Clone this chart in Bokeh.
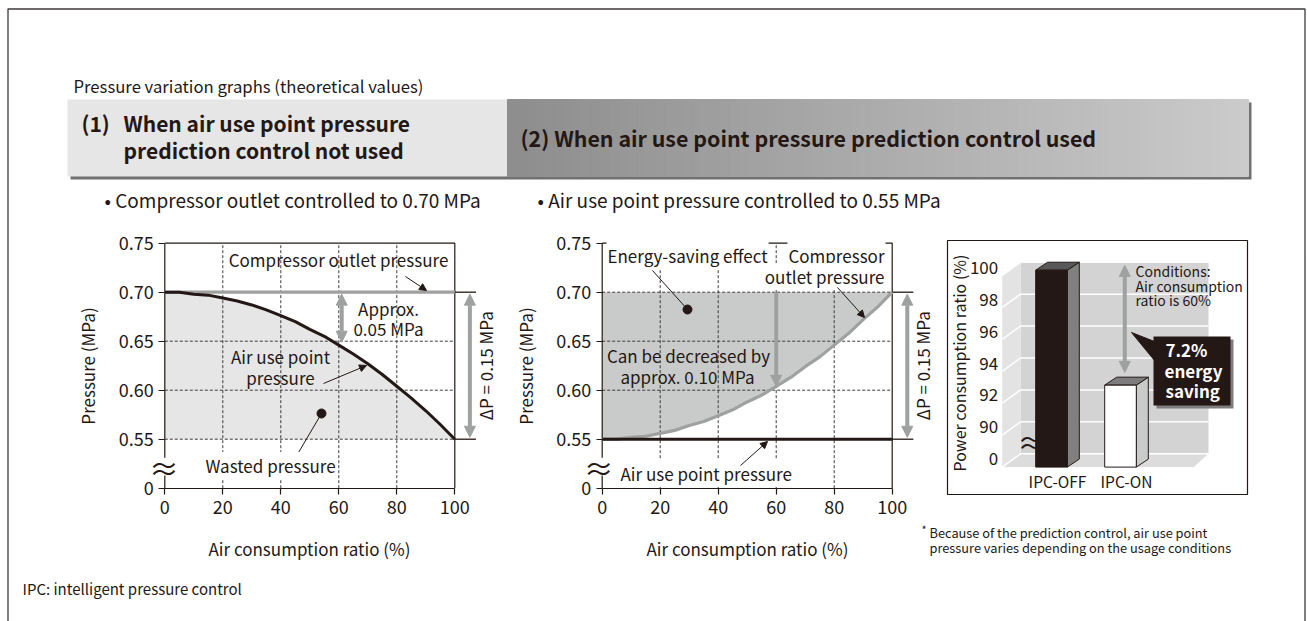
import numpy as np
from bokeh.plotting import figure
from bokeh.models import (Range1d, LinearAxis, FixedTicker, NumeralTickFormatter,
                          Arrow, NormalHead)
from bokeh.core.properties import value
from bokeh.embed import file_html
from bokeh.resources import INLINE

# ------------------------------------------------------------------ data
ratio = [0, 5, 10, 15, 20, 25, 30, 35, 40, 45, 50, 55, 60, 65, 70, 75, 80, 85, 90, 95, 100]
ratio_ticks = [0, 20, 40, 60, 80, 100]
pressure_ticks = [0.50, 0.55, 0.60, 0.65, 0.70, 0.75]      # 0.50 shown as the broken "0"
grid_pressures = [0.55, 0.60, 0.65, 0.70]
grid_ratios = [20, 40, 60, 80]
# (1) without prediction control
point_pressure_no_ipc = [0.700, 0.700, 0.698, 0.697, 0.694, 0.691, 0.687, 0.682, 0.676, 0.670,
                         0.662, 0.655, 0.646, 0.637, 0.627, 0.616, 0.604, 0.592, 0.579, 0.565, 0.550]
outlet_ends = [0, 100]
outlet_pressure_no_ipc = [0.70, 0.70]
# (2) with prediction control
outlet_pressure_ipc = [0.550, 0.550, 0.552, 0.553, 0.556, 0.559, 0.564, 0.568, 0.574, 0.580,
                       0.588, 0.595, 0.604, 0.613, 0.624, 0.634, 0.646, 0.658, 0.672, 0.685, 0.700]
point_pressure_ipc = [0.55, 0.55]
delta_p = [0.70, 0.55]
# power consumption bars
bar_labels = ["IPC-OFF", "IPC-ON"]
bar_values = [100.0, 92.8]
power_ticks = [88, 90, 92, 94, 96, 98, 100]                  # 88 shown as the broken "0"

# ------------------------------------------------------------------ style
FONT = "Noto Sans CJK JP"
INK = "#231815"
GRAYLINE = "#9fa0a0"
F = value(FONT)

W, H = 1307, 621
PX0, PX1, PY0, PY1 = 0, W, H, 0      # page pixel extents (left, right, bottom, top)


def rng(d0, p0, d1, p1, lo, hi):
    k = (d1 - d0) / (p1 - p0)
    return Range1d(start=d0 + (lo - p0) * k, end=d0 + (hi - p0) * k)


p = figure(width=W, height=H, x_range=Range1d(PX0, PX1), y_range=Range1d(PY0, PY1),
           output_backend="svg", toolbar_location=None,
           x_axis_location=None, y_axis_location=None, min_border=0,
           background_fill_color="white", border_fill_color="white",
           outline_line_color=None)
p.grid.visible = False

p.extra_x_ranges = {
    "c1": rng(0, 164.3, 100, 454.3, PX0, PX1),
    "c2": rng(0, 601.7, 100, 891.7, PX0, PX1),
    "bx": rng(0, 1057, 1, 1126, PX0, PX1),
}
p.extra_y_ranges = {
    "py": rng(0.5, 487.7, 0.75, 242.7, PY0, PY1),
    "by": rng(88, 453.3, 100, 261.7, PY0, PY1),
    "byl": rng(88, 458.3, 100, 266.7, PY0, PY1),
}


def txt(x, y, t, size="17px", align="left", color=INK, style="normal", bg=None, **kw):
    extra = {}
    if bg is not None:
        extra = dict(background_fill_color=bg, padding=1)
    p.text(x=[x], y=[y], text=[t], text_font=F, text_font_size=size,
           text_color=color, text_align=align, text_baseline="middle",
           text_font_style=style, **extra, **kw)


def style_axis(ax, size="18px", lsize="17px"):
    ax.axis_line_color = INK
    ax.axis_line_width = 1.2
    ax.major_tick_line_color = INK
    ax.major_tick_line_width = 1.2
    ax.major_tick_out = 6
    ax.major_tick_in = 0
    ax.minor_tick_line_color = None
    ax.major_label_text_font = FONT
    ax.major_label_text_font_size = size
    ax.major_label_text_color = INK
    ax.axis_label_text_font = FONT
    ax.axis_label_text_font_size = lsize
    ax.axis_label_text_font_style = "normal"
    ax.axis_label_text_color = INK


# ------------------------------------------------------------------ outer frame
p.line(x=[7.5, 7.5, 1304.5, 1304.5], y=[621, 8.5, 8.5, 621], line_color="#3e3a39", line_width=1.3)

# ------------------------------------------------------------------ header
txt(73, 85, "Pressure variation graphs (theoretical values)", size="16.7px")
p.quad(left=70, right=1251, top=102, bottom=179, fill_color="#595757", line_color=None, fill_alpha=0.85)
p.quad(left=67, right=507, top=99, bottom=176, fill_color="#e6e6e6", line_color=None)
n = 80
edges = np.linspace(507, 1248, n + 1)
greys = np.linspace(142, 203, n).astype(int)
cols = ["#%02x%02x%02x" % (g, g, g) for g in greys]
p.quad(left=edges[:-1], right=edges[1:], top=99, bottom=176, fill_color=cols, line_color=cols, line_width=1)
txt(81, 122, "(1)", size="21px", style="bold")
txt(123, 122, "When air use point pressure", size="21px", style="bold")
txt(123, 149, "prediction control not used", size="21px", style="bold")
txt(520, 137, "(2) When air use point pressure prediction control used", size="21.4px", style="bold")
txt(104, 199, "\u2022 Compressor outlet controlled to 0.70 MPa", size="19px")
txt(537, 199, "\u2022 Air use point pressure controlled to 0.55 MPa", size="19px")


# ------------------------------------------------------------------ line charts
def chart_frame(xr, brk_x):
    kw = dict(x_range_name=xr, y_range_name="py")
    # dashed grid
    p.segment(x0=grid_ratios, x1=grid_ratios, y0=pressure_ticks[0], y1=pressure_ticks[-1],
              line_color="#3e3a39", line_width=1, line_dash="3 2", **kw)
    p.segment(x0=ratio_ticks[0], x1=ratio_ticks[-1], y0=grid_pressures, y1=grid_pressures,
              line_color="#3e3a39", line_width=1, line_dash="3 2", **kw)
    # frame top / right
    p.line(x=[ratio_ticks[0], ratio_ticks[-1], ratio_ticks[-1]],
           y=[pressure_ticks[-1], pressure_ticks[-1], pressure_ticks[0]],
           line_color=INK, line_width=1.2, **kw)
    # left axis line with a break
    p.segment(x0=[0, 0], x1=[0, 0], y0=[pressure_ticks[0], 0.531], y1=[0.513, pressure_ticks[-1]],
              line_color=INK, line_width=1.2, **kw)
    p.text(x=[brk_x], y=[0.5215], text=["\u2248"], text_font=F, text_font_size="30px",
           text_color=INK, text_align="center", text_baseline="middle", **kw)
    # ΔP bracket lines
    p.segment(x0=ratio_ticks[-1], x1=107.3, y0=delta_p, y1=delta_p, line_color=INK, line_width=1.3, **kw)
    p.add_layout(Arrow(x_start=105.2, x_end=105.2, y_start=delta_p[0] - 0.002, y_end=delta_p[1] + 0.002,
                       line_color=GRAYLINE, line_width=4,
                       start=NormalHead(size=11, fill_color=GRAYLINE, line_color=GRAYLINE),
                       end=NormalHead(size=11, fill_color=GRAYLINE, line_color=GRAYLINE), **kw))
    p.text(x=[110.6], y=[(delta_p[0] + delta_p[1]) / 2], text=["\u0394P = 0.15 MPa"], angle=np.pi / 2,
           text_font=F, text_font_size="17px", text_color=INK, text_align="center",
           text_baseline="middle", **kw)
    # axes
    ax = LinearAxis(fixed_location=pressure_ticks[0], bounds=(0, 100),
                    ticker=FixedTicker(ticks=ratio_ticks), axis_label="Air consumption ratio (%)", **kw)
    style_axis(ax)
    ax.major_label_standoff = 6
    ax.axis_label_standoff = 18
    p.add_layout(ax, "below")
    ay = LinearAxis(fixed_location=0, bounds=(pressure_ticks[0], pressure_ticks[-1]),
                    ticker=FixedTicker(ticks=pressure_ticks),
                    formatter=NumeralTickFormatter(format="0.00"),
                    major_label_overrides={0.5: "0"}, axis_label="Pressure (MPa)", **kw)
    style_axis(ay)
    ay.axis_line_color = None
    ay.major_label_standoff = 5
    ay.axis_label_standoff = 16
    p.add_layout(ay, "left")


# chart (1)
k1 = dict(x_range_name="c1", y_range_name="py")
p.varea(x=ratio, y1=grid_pressures[0], y2=point_pressure_no_ipc, fill_color="#e6e6e6", **k1)
chart_frame("c1", -0.3)
p.line(x=outlet_ends, y=outlet_pressure_no_ipc, line_color=GRAYLINE, line_width=3.2, **k1)
p.line(x=ratio, y=point_pressure_no_ipc, line_color=INK, line_width=3, **k1)
p.add_layout(Arrow(x_start=61, x_end=61, y_start=outlet_pressure_no_ipc[0] - 0.002,
                   y_end=point_pressure_no_ipc[ratio.index(60)] + 0.003,
                   line_color=GRAYLINE, line_width=4,
                   start=NormalHead(size=11, fill_color=GRAYLINE, line_color=GRAYLINE),
                   end=NormalHead(size=11, fill_color=GRAYLINE, line_color=GRAYLINE), **k1))
txt(338, 259, "Compressor outlet pressure", align="center")
txt(388, 308, "Approx.", align="center")
txt(388, 328, "0.05 MPa", align="center")
txt(280, 356, "Air use point", align="center")
txt(280, 377, "pressure", align="center")
p.segment(x0=[321], y0=[413], x1=[298], y1=[452], line_color=INK, line_width=1)
txt(270, 465, "Wasted pressure", align="center", bg="white")
p.scatter(x=[321], y=[413], size=9, fill_color=INK, line_color=INK)
p.add_layout(Arrow(x_start=405, y_start=276, x_end=426, y_end=290, line_color=INK, line_width=1,
                   end=NormalHead(size=7, fill_color=INK, line_color=INK)))
p.add_layout(Arrow(x_start=323, y_start=383, x_end=366, y_end=365, line_color=INK, line_width=1,
                   end=NormalHead(size=7, fill_color=INK, line_color=INK)))

# chart (2)
k2 = dict(x_range_name="c2", y_range_name="py")
p.varea(x=ratio, y1=outlet_pressure_ipc, y2=outlet_pressure_no_ipc[0], fill_color="#c9caca", **k2)
chart_frame("c2", -1.2)
p.line(x=ratio, y=outlet_pressure_ipc, line_color=GRAYLINE, line_width=3.2, **k2)
p.line(x=outlet_ends, y=point_pressure_ipc, line_color=INK, line_width=3, **k2)
p.add_layout(Arrow(x_start=60, x_end=60, y_start=outlet_pressure_no_ipc[0],
                   y_end=outlet_pressure_ipc[ratio.index(60)],
                   line_color=GRAYLINE, line_width=4,
                   end=NormalHead(size=11, fill_color=GRAYLINE, line_color=GRAYLINE), **k2))
txt(687, 255, "Energy-saving effect", align="center", bg="white")
txt(885, 255, "Compressor", align="right", bg="white")
txt(885, 276, "outlet pressure", align="right", bg="white")
txt(688, 355, "Can be decreased by", align="center")
txt(687, 376, "approx. 0.10 MPa", align="center")
txt(619, 473, "Air use point pressure", bg="white")
p.segment(x0=[652], y0=[270], x1=[687], y1=[309], line_color=INK, line_width=1)
p.scatter(x=[687], y=[309], size=9, fill_color=INK, line_color=INK)
p.add_layout(Arrow(x_start=837, y_start=287, x_end=864, y_end=317, line_color=INK, line_width=1,
                   end=NormalHead(size=7, fill_color=INK, line_color=INK)))
p.add_layout(Arrow(x_start=740, y_start=465, x_end=767, y_end=441, line_color=INK, line_width=1,
                   end=NormalHead(size=7, fill_color=INK, line_color=INK)))

# ------------------------------------------------------------------ bar chart
kb = dict(x_range_name="bx", y_range_name="by")
p.quad(left=947, right=1247, top=240, bottom=494, fill_color="white", line_color=INK, line_width=1.2)
BACK_L, BACK_R, FRONT_L, FLOOR_FR = -0.536, 2.188, -0.801, 1.975
DV = 0.833                        # wall depth in value units
base = power_ticks[0]
top = power_ticks[-1]
p.quad(left=BACK_L, right=BACK_R, bottom=base, top=top, fill_color="#d3d3d4", line_color=None, **kb)
p.patch(x=[FRONT_L, BACK_L, BACK_L, FRONT_L], y=[top - DV, top, base, base - DV],
        fill_color="#e3e3e3", line_color=None, **kb)
p.patch(x=[FRONT_L, BACK_L, BACK_R, FLOOR_FR], y=[base - DV, base, base, base - DV],
        fill_color="#dcdcdd", line_color=None, **kb)
p.segment(x0=BACK_L, x1=BACK_R, y0=power_ticks, y1=power_ticks, line_color="white", line_width=1.5, **kb)
p.segment(x0=FRONT_L, x1=BACK_L, y0=[t - DV for t in power_ticks], y1=power_ticks,
          line_color="white", line_width=1.5, **kb)
# bars (front face, side, top) with a small pseudo-3D offset
FL, FR, SR, BV = 0.316, 0.142, 0.316, 0.5
floor_front = base - DV
xs_c = list(range(len(bar_values)))
front_cols = [INK, "white"]
side_cols = ["#808080", "#c9caca"]
top_cols = ["#595757", "#7d7d7d"]
p.patches(xs=[[c + FR, c + SR, c + SR, c + FR] for c in xs_c],
          ys=[[v - BV, v, floor_front + BV, floor_front] for v in bar_values],
          fill_color=side_cols, line_color=INK, line_width=1, **kb)
p.patches(xs=[[c - FL, c + FR, c + SR, c - FL + (SR - FR)] for c in xs_c],
          ys=[[v - BV, v - BV, v, v] for v in bar_values],
          fill_color=top_cols, line_color=INK, line_width=1, **kb)
p.quad(left=[c - FL for c in xs_c], right=[c + FR for c in xs_c],
       top=[v - BV for v in bar_values], bottom=floor_front,
       fill_color=front_cols, line_color=INK, line_width=1, **kb)
p.add_layout(Arrow(x_start=0.975, x_end=0.975, y_start=bar_values[0] - 0.2, y_end=bar_values[1] + 0.3,
                   line_color=GRAYLINE, line_width=4,
                   start=NormalHead(size=11, fill_color=GRAYLINE, line_color=GRAYLINE),
                   end=NormalHead(size=11, fill_color=GRAYLINE, line_color=GRAYLINE), **kb))
txt(1135, 270, "Conditions:", size="14px")
txt(1135, 285, "Air consumption", size="14px")
txt(1135, 299, "ratio is 60%", size="14px")
# callout
p.quad(left=1156, right=1233, top=339, bottom=408, fill_color="#7d7d7d", line_color=None)
p.quad(left=1153, right=1230, top=336, bottom=405, fill_color=INK, line_color=None)
p.patch(x=[1154, 1154, 1131], y=[341, 360, 332], fill_color=INK, line_color=INK)
txt(1165, 349, "7.2%", size="17px", color="white", style="bold")
txt(1164, 370, "energy", size="17px", color="white", style="bold")
txt(1165, 390, "saving", size="17px", color="white", style="bold")
txt(1017, 441, "\u2248", size="28px")
# bar axes
bay = LinearAxis(x_range_name="bx", y_range_name="byl", fixed_location=FRONT_L,
                 bounds=(power_ticks[0], power_ticks[-1]), ticker=FixedTicker(ticks=power_ticks),
                 major_label_overrides={88: "0"}, axis_label="Power consumption ratio (%)")
style_axis(bay, size="17px", lsize="16px")
bay.axis_line_color = None
bay.major_tick_line_color = None
bay.major_tick_out = 0
bay.major_label_standoff = 4
bay.axis_label_standoff = -4
p.add_layout(bay, "left")
bax = LinearAxis(x_range_name="bx", y_range_name="by", fixed_location=floor_front, bounds=(0, 1),
                 ticker=FixedTicker(ticks=xs_c),
                 major_label_overrides={i: l for i, l in zip(xs_c, bar_labels)})
style_axis(bax, size="15.5px")
bax.axis_line_color = None
bax.major_tick_line_color = None
bax.major_tick_out = 0
bax.major_label_standoff = 3
p.add_layout(bax, "below")

# ------------------------------------------------------------------ footnotes
txt(921, 528, "*", size="11px")
txt(929, 532, "Because of the prediction control, air use point", size="12.8px")
txt(929, 547, "pressure varies depending on the usage conditions", size="12.8px")
txt(22, 588, "IPC: intelligent pressure control", size="15px")

open("out.html", "w").write(file_html(p, INLINE))
